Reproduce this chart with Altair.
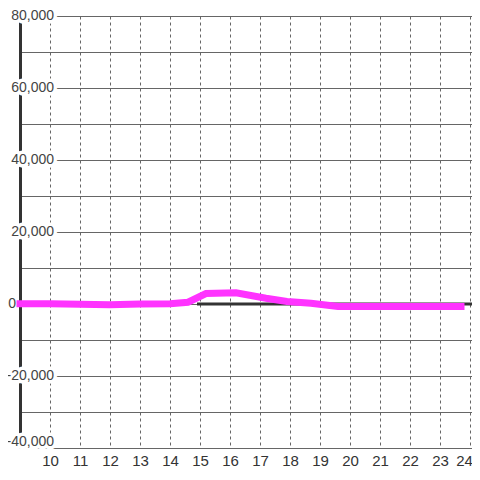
import altair as alt
import pandas as pd

# --- data ---
hours = [9, 10, 11, 12, 13, 14, 14.6, 15.2, 16.2, 17.2, 17.9, 18.7, 19.6, 23.7]
values = [100, 100, -100, -200, 0, 100, 500, 2900, 3100, 1600, 700, 200, -700, -700]

x_ticks = list(range(10, 25))
y_grid = list(range(-40000, 80001, 10000))
y_label_values = [80000, 60000, 40000, 20000, -20000, -40000]
y_label_texts = ["80,000", "60,000", "40,000", "20,000", "-20,000", "-40,000"]
zero_label_value = [0]
zero_label_text = ["0"]
baseline_start = [14.9]
x_min, x_max = 9, 9 + 452 / 30
y_min, y_max = -40000, 80000

FONT = "Liberation Sans"

df = pd.DataFrame({"hour": hours, "value": values})
labels_df = pd.DataFrame({"v": y_label_values, "t": y_label_texts})
zero_df = pd.DataFrame({"v": zero_label_value, "t": zero_label_text})
base_df = pd.DataFrame({"start": baseline_start, "end": [x_max], "v": [0]})

x_scale = alt.Scale(domain=[x_min, x_max], nice=False, zero=False)
y_scale = alt.Scale(domain=[y_min, y_max], nice=False, zero=False)

x_axis = alt.Axis(values=x_ticks, grid=True, gridDash=[3, 3], gridColor="#666",
                  gridWidth=1, domain=False, ticks=False, labelFont=FONT,
                  labelFontSize=15, labelColor="#333", labelPadding=5,
                  format="d", labelFlush=False, labelOverlap=False, labelBound=False,
                  labelOffset=alt.condition("datum.value == 24", alt.value(-6), alt.value(0)))
y_axis = alt.Axis(values=y_grid, grid=True, gridColor="#666", gridWidth=1,
                  domain=True, domainColor="#333", domainWidth=3,
                  ticks=False, labels=False)

baseline = alt.Chart(base_df).mark_rule(color="#333", strokeWidth=3).encode(
    x=alt.X("start:Q", scale=x_scale, title=None, axis=x_axis),
    x2="end:Q",
    y=alt.Y("v:Q", scale=y_scale, title=None, axis=y_axis),
)


def label_layers(filter_expr, dy):
    enc = dict(
        y=alt.Y("v:Q", scale=y_scale, title=None, axis=y_axis),
        x=alt.value(34),
        text="t:N",
    )
    halo = alt.Chart(labels_df).transform_filter(filter_expr).mark_text(
        align="right", baseline="middle", font=FONT, fontSize=14, dy=dy,
        fill="white", stroke="white", strokeWidth=7, strokeJoin="round"
    ).encode(**enc)
    txt = alt.Chart(labels_df).transform_filter(filter_expr).mark_text(
        align="right", baseline="middle", font=FONT, fontSize=14, dy=dy, color="#444"
    ).encode(**enc)
    return halo, txt


halo_main, txt_main = label_layers("datum.v > -40000", 0)
halo_bot, txt_bot = label_layers("datum.v <= -40000", -6)

zero_lab = alt.Chart(zero_df).mark_text(
    align="right", baseline="middle", font=FONT, fontSize=14, color="#444"
).encode(
    y=alt.Y("v:Q", scale=y_scale, title=None, axis=y_axis),
    x=alt.value(-4),
    text="t:N",
)

line = alt.Chart(df).mark_line(color="#ff33ff", strokeWidth=7, strokeCap="square",
                               strokeJoin="miter").encode(
    x=alt.X("hour:Q", scale=x_scale, title=None, axis=x_axis),
    y=alt.Y("value:Q", scale=y_scale, title=None, axis=y_axis),
)

chart = alt.layer(baseline, halo_main, halo_bot, txt_main, txt_bot, zero_lab, line).properties(
    width=452, height=432,
    padding={"left": 12, "top": 8, "right": 0, "bottom": 20},
    autosize=alt.AutoSizeParams(type="none"),
    background="white",
).configure_view(stroke=None)

chart.save("out.html", embed_options={"renderer": "svg", "actions": False})
